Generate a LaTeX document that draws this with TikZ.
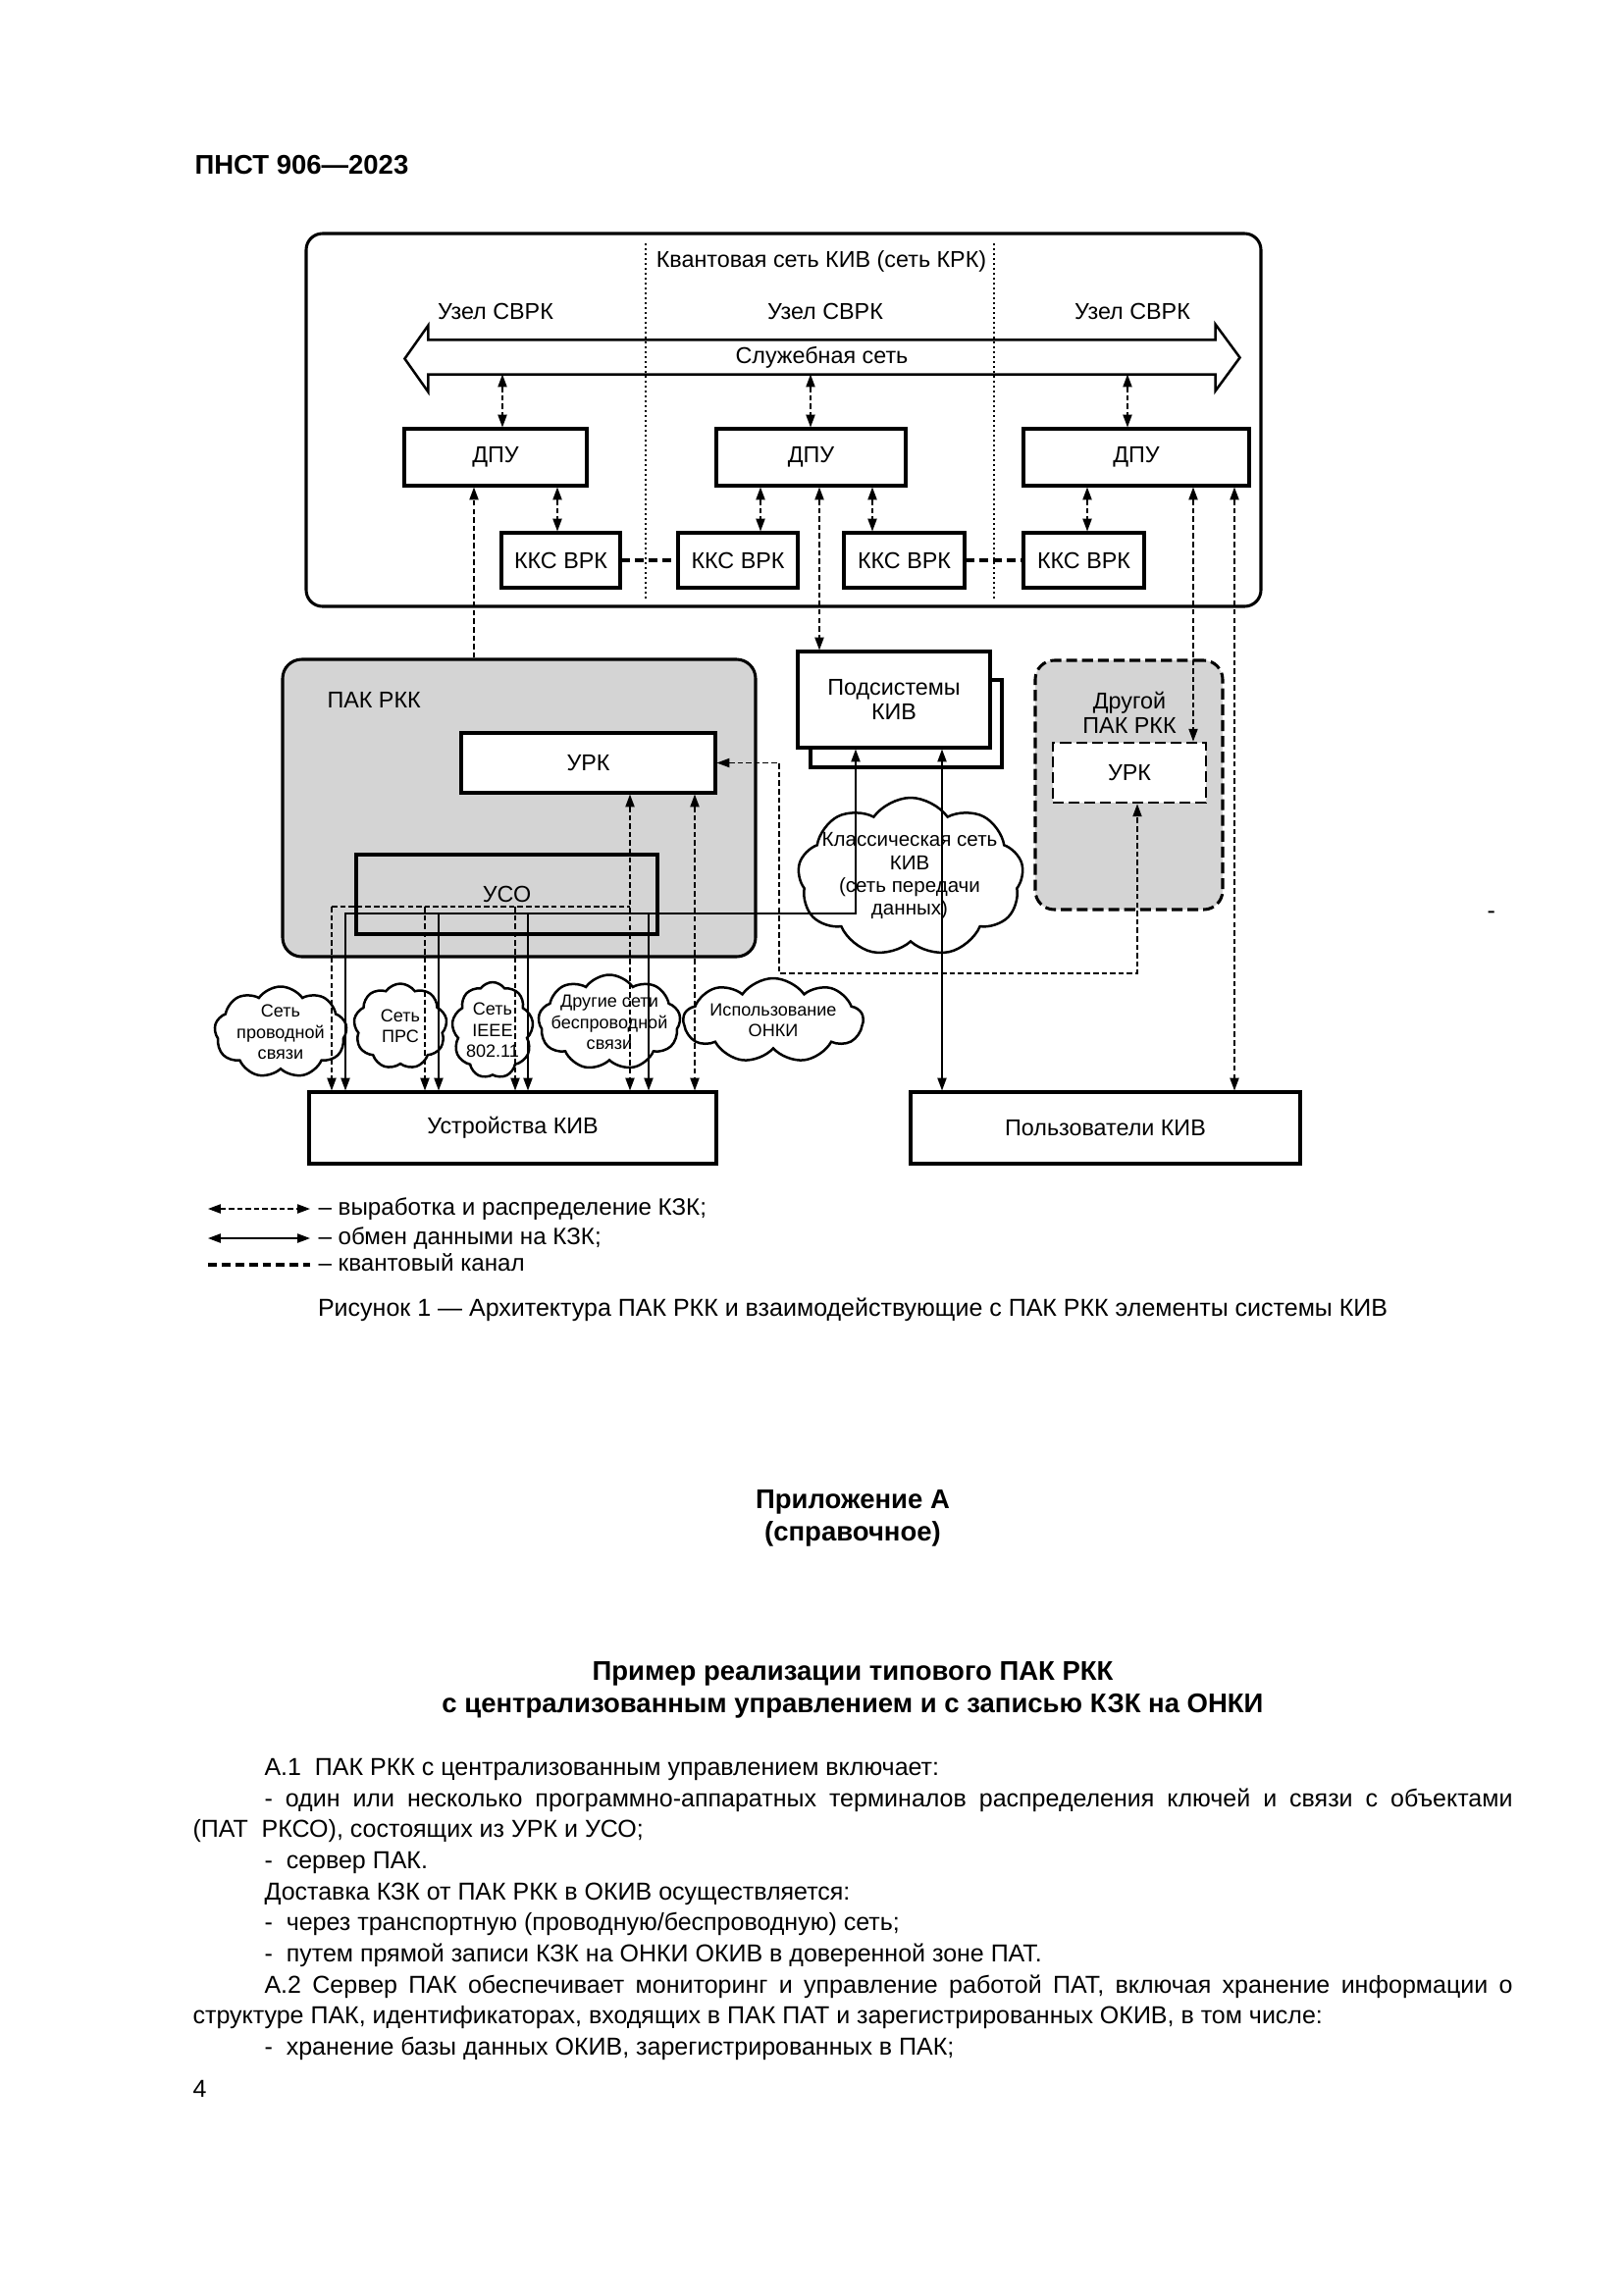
\documentclass[tikz,border=0pt]{standalone}
\usepackage{fontspec}
\setmainfont{Liberation Sans}
\usetikzlibrary{arrows.meta, shapes.symbols}

\newcommand{\lblsize}{\fontsize{8.4}{9}\selectfont}
\newcommand{\cldsize}{\fontsize{6.5}{7.7}\selectfont}
\newcommand{\netsize}{\fontsize{7.4}{8.4}\selectfont}
\newcommand{\txtsize}{\fontsize{9}{10}\selectfont}
\newcommand{\lgdsize}{\fontsize{8.7}{10}\selectfont}
\newcommand{\hdrsize}{\fontsize{9.9}{11}\selectfont\bfseries}

\begin{document}
\begin{tikzpicture}[x = 0.36pt, y = -0.36pt,
	>={Triangle[length=4.6pt, width=3.3pt]},
	sz/.style n args = {2}{minimum width = #1*0.36pt, minimum height = #2*0.36pt},
	box/.style = {draw, line width = 1.1pt, inner sep = 0pt, font = \lblsize, align = center},
	grp/.style = {draw, line width = 1.1pt, rounded corners = 7pt, inner sep = 0pt, fill = black!17},
	kzk/.style = {line width = 0.5pt, dash pattern = on 2pt off 1.1pt},
	data/.style = {line width = 0.5pt},
	qch/.style = {line width = 1.2pt, dash pattern = on 3.2pt off 1.8pt},
	lbl/.style = {font = \lblsize, align = center, inner sep = 0pt},
	cld/.style = {cloud, draw, line width = 0.9pt, cloud puffs = 9, cloud puff arc = 110,
		cloud ignores aspect, inner sep = 0pt, fill = white},
	txt/.style = {font = \txtsize, inner sep = 0pt, anchor = base west},
	lgd/.style = {font = \lgdsize, inner sep = 0pt, anchor = west, text height = 6.3pt, text depth = 1.8pt},
	hdr/.style = {font = \hdrsize, inner sep = 0pt, anchor = base}]
	\fill[white] (0, 0) rectangle (1654, 2339);
	\useasboundingbox (0, 0) rectangle (1654, 2339);
	
	\node[hdr, anchor = base west] (std) at (198, 177) {ПНСТ 906—2023};
	
	% quantum network
	\node[draw, line width = 1.1pt, rounded corners = 6pt, inner sep = 0pt, sz = {973}{380}] (qnet) at (798.5, 428) {};
	\draw[line width = 0.8pt, densely dotted] (658, 248) -- (658, 610);
	\draw[line width = 0.8pt, densely dotted] (1013, 248) -- (1013, 610);
	\node[lbl] (qtitle) at (837, 266) {Квантовая сеть КИВ (сеть КРК)};
	\node[lbl] (node1) at (505, 317) {Узел СВРК};
	\node[lbl] (node2) at (841, 317) {Узел СВРК};
	\node[lbl] (node3) at (1154, 317) {Узел СВРК};
	
	\node[lbl, sz = {801}{34}] (net) at (837.5, 364) {Служебная сеть};
	\draw[line width = 0.9pt] (net.north west) -- (net.north east) -- ++(0, -16) -- ++(25, 34) -- ++(-25, 34)
	-- (net.south east) -- (net.south west) -- ++(0, 18) -- ++(-24, -34) -- ++(24, -34) -- cycle;
	
	\node[box, sz = {186}{58}] (dpu1) at (505, 466) {ДПУ};
	\node[box, sz = {193}{58}] (dpu2) at (826.5, 466) {ДПУ};
	\node[box, sz = {230}{58}] (dpu3) at (1158, 466) {ДПУ};
	\node[box, sz = {121}{56}] (kks1) at (571.5, 571) {ККС ВРК};
	\node[box, sz = {122}{56}] (kks2) at (752, 571) {ККС ВРК};
	\node[box, sz = {123}{56}] (kks3) at (921.5, 571) {ККС ВРК};
	\node[box, sz = {123}{56}] (kks4) at (1104.5, 571) {ККС ВРК};
	
	% PAK RKK
	\node[grp, sz = {482}{303}] (pak) at (529, 823.5) {};
	\node[lbl, anchor = west] (paklbl) at (333, 713) {ПАК РКК};
	\node[box, fill = white, sz = {259}{61}] (urk) at (599.5, 777.5) {УРК};
	\node[box, line width = 1.2pt, sz = {307}{81}] (uso) at (516.5, 911.5) {УСО};
	
	\node[box, fill = white, sz = {195}{89}] (podsb) at (923.5, 737.5) {};
	\node[box, fill = white, sz = {196}{98}] (pods) at (911, 713) {Подсистемы\\КИВ};
	
	\node[grp, dash pattern = on 4pt off 1.8pt, sz = {191}{254}] (pak2) at (1150.5, 800) {};
	\node[lbl] (pak2lbl) at (1151, 726) {Другой\\ПАК РКК};
	\node[box, line width = 1pt, dash pattern = on 4pt off 1.8pt, fill = white, sz = {156}{61}] (urk2) at (1151, 787.5) {УРК};
	
	\node[cld, sz = {230}{162}] (cnet) at (928, 894) {};
	\node[lbl, font = \netsize] (cnetlbl) at (927, 893) {Классическая сеть\\КИВ\\(сеть передачи\\данных)};
	
	\node[box, sz = {415}{73}] (dev) at (522.5, 1149.5) {Устройства КИВ};
	\node[box, sz = {397}{73}] (users) at (1126.5, 1149.5) {Пользователи КИВ};
	
	% access networks
	\foreach \n/\x/\y/\w/\h/\t in {c1/286/1052/135/93/{Сеть\\проводной\\связи},
		c2/408/1046/95/87/{Сеть\\ПРС}, c3/502/1050/83/98/{Сеть\\IEEE\\802.11},
		c4/621/1042/145/97/{Другие сети\\беспроводной\\связи}, c5/788/1040/183/86/{Использование\\ОНКИ}}
	{
		\node[cld, sz = {\w}{\h}] (\n) at (\x, \y) {};
		\node[lbl, font = \cldsize] (\n-t) at (\n) {\t};
	}
	
	% connectors
	\foreach \n/\x in {s1/512, s2/826, s3/1149, k1/568, k2/775, k3/889, k4/1108, u1/483, u2/835, u3/1216, u4/1258}
	\coordinate (\n) at (\x, 0);
	\foreach \s/\d in {s1/dpu1, s2/dpu2, s3/dpu3}
	\draw[kzk, <->] (net.south -| \s) -- (\d.north -| \s);
	\foreach \s/\a/\b in {k1/dpu1/kks1, k2/dpu2/kks2, k3/dpu2/kks3, k4/dpu3/kks4}
	\draw[kzk, <->] (\a.south -| \s) -- (\b.north -| \s);
	\draw[qch] (kks1.east) -- (kks2.west);
	\draw[qch] (kks3.east) -- (kks4.west);
	
	\draw[kzk, ->] (pak.north -| u1) -- (dpu1.south -| u1);
	\draw[kzk, <->] (dpu2.south -| u2) -- (pods.north -| u2);
	\draw[kzk, <->] (dpu3.south -| u3) -- (urk2.north -| u3);
	\draw[kzk, <->] (dpu3.south -| u4) -- (users.north -| u4);
	
	\coordinate (j1) at (338, 924);
	\coordinate (j2) at (433, 924);
	\coordinate (j3) at (525, 924);
	\coordinate (j4) at (642, 924);
	\coordinate (j5) at (708, 924);
	\coordinate (e1) at (352, 931);
	\coordinate (e2) at (447, 931);
	\coordinate (e3) at (538, 931);
	\coordinate (e4) at (661, 931);
	\coordinate (e5) at (872, 931);
	\coordinate (e6) at (960, 931);
	\coordinate (r1) at (794, 992);
	\coordinate (r2) at (1159, 992);
	
	\draw[kzk, <->] (urk.east) -| (r1) -- (r2) -- (urk2.south -| r2);
	\draw[kzk, <->] (urk.south -| j4) -- (dev.north -| j4);
	\draw[kzk] (j1) -- (j4);
	\foreach \j in {j1, j2, j3}
	\draw[kzk, ->] (\j) -- (dev.north -| \j);
	\draw[kzk, <->] (urk.south -| j5) -- (dev.north -| j5);
	\draw[data, <->] (pods.south -| e5) |- (e1) -- (dev.north -| e1);
	\foreach \e in {e2, e3, e4}
	\draw[data, ->] (\e) -- (dev.north -| \e);
	\draw[data, <->] (pods.south -| e6) -- (users.north -| e6);
	
	% legend
	\node[lgd] (lg1) at (324, 1232) {– выработка и распределение КЗК;};
	\node[lgd] (lg2) at (324, 1262) {– обмен данными на КЗК;};
	\node[lgd] (lg3) at (324, 1289) {– квантовый канал};
	\coordinate (lg1s) at (212, 1232);
	\coordinate (lg2s) at (212, 1262);
	\coordinate (lg3s) at (212, 1289);
	\draw[kzk, <->] (lg1s) -- ([xshift = -2.9pt]lg1.west);
	\draw[data, <->] (lg2s) -- ([xshift = -2.9pt]lg2.west);
	\draw[qch] (lg3s) -- ([xshift = -2.9pt]lg3.west);
	
	\node[txt, anchor = base] (cap) at (869, 1341) {Рисунок 1 — Архитектура ПАК РКК и взаимодействующие с ПАК РКК элементы системы КИВ};
	\node[txt] (mark) at (1515, 936) {-};
	
	% appendix
	\node[hdr] (app) at (869, 1537) {Приложение А};
	\node[hdr] (appsub) at (869, 1570) {(справочное)};
	\node[hdr] (ttl1) at (869, 1712) {Пример реализации типового ПАК РКК};
	\node[hdr] (ttl2) at (869, 1745) {с централизованным управлением и с записью КЗК на ОНКИ};
	
	\node[txt] (p1) at (269, 1809) {А.1\ \ ПАК РКК с централизованным управлением включает:};
	\node[txt] (p2) at (269, 1841) {\makebox[457.9pt][s]{- один или несколько программно-аппаратных терминалов распределения ключей и связи с объектами}};
	\node[txt] (p3) at (196, 1872) {(ПАТ\ \ РКСО), состоящих из УРК и УСО;};
	\node[txt] (p4) at (269, 1904) {-\ \ сервер ПАК.};
	\node[txt] (p5) at (269, 1936) {Доставка КЗК от ПАК РКК в ОКИВ осуществляется:};
	\node[txt] (p6) at (269, 1967) {-\ \ через транспортную (проводную/беспроводную) сеть;};
	\node[txt] (p7) at (269, 1999) {-\ \ путем прямой записи КЗК на ОНКИ ОКИВ в доверенной зоне ПАТ.};
	\node[txt] (p8) at (269, 2031) {\makebox[457.9pt][s]{А.2 Сервер ПАК обеспечивает мониторинг и управление работой ПАТ, включая хранение информации о}};
	\node[txt] (p9) at (196, 2062) {структуре ПАК, идентификаторах, входящих в ПАК ПАТ и зарегистрированных ОКИВ, в том числе:};
	\node[txt] (p10) at (269, 2094) {-\ \ хранение базы данных ОКИВ, зарегистрированных в ПАК;};
	\node[txt] (pnum) at (196, 2137) {4};
\end{tikzpicture}
\end{document}
